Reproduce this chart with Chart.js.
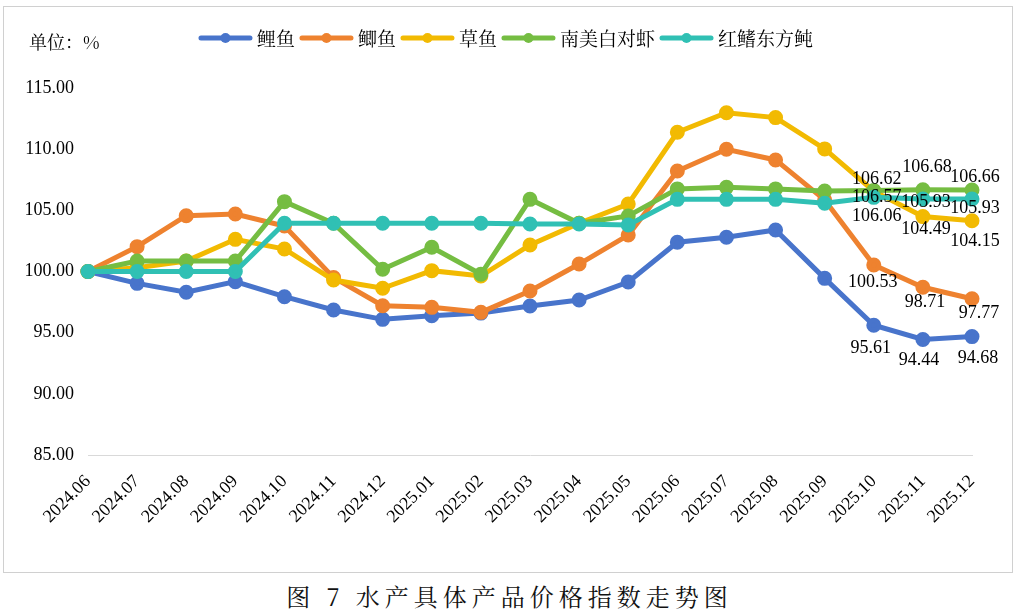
<!DOCTYPE html>
<html>
<head>
<meta charset="utf-8">
<script src="https://cdn.jsdelivr.net/npm/chart.js@4"></script>
<style>
  body { margin: 0; background: #fff; width: 1019px; height: 613px; position: relative; overflow: hidden; }
  #box { position: absolute; left: 3px; top: 6px; width: 1008px; height: 565px; border: 1px solid #d0d0d0; }
  #caption { position: absolute; left: 0; top: 578px; width: 1019px; text-align: center;
    font-family: "Noto Serif CJK SC", "Noto Sans CJK SC", serif; font-size: 24px; letter-spacing: 5px; color: #111; }
</style>
</head>
<body>
<div id="box"><canvas id="c" width="1008" height="565"></canvas></div>
<div id="caption">图 7 水产具体产品价格指数走势图</div>
<script>
// Months on the x axis
const months = ['2024.06', '2024.07', '2024.08', '2024.09', '2024.10', '2024.11', '2024.12',
  '2025.01', '2025.02', '2025.03', '2025.04', '2025.05', '2025.06', '2025.07', '2025.08',
  '2025.09', '2025.10', '2025.11', '2025.12'];

// Index values (last three months are labelled)
const carp      = [100, 99.03, 98.30, 99.17, 97.94, 96.85, 96.09, 96.39, 96.60, 97.18, 97.67, 99.14, 102.39, 102.80, 103.39, 99.44, 95.61, 94.44, 94.68];
const crucian   = [100, 102.03, 104.56, 104.70, 103.72, 99.50, 97.20, 97.07, 96.66, 98.41, 100.61, 102.98, 108.22, 109.99, 109.12, 105.85, 100.53, 98.71, 97.77];
const grassCarp = [100, 100.30, 100.85, 102.63, 101.84, 99.30, 98.63, 100.07, 99.63, 102.17, 103.94, 105.52, 111.38, 112.98, 112.58, 110.02, 106.57, 104.49, 104.15];
const shrimp    = [100, 100.86, 100.86, 100.86, 105.71, 103.94, 100.18, 101.98, 99.77, 105.90, 103.94, 104.54, 106.75, 106.88, 106.75, 106.58, 106.62, 106.68, 106.66];
const puffer    = [100, 100, 100, 100, 103.94, 103.94, 103.94, 103.94, 103.94, 103.88, 103.88, 103.80, 105.90, 105.90, 105.90, 105.58, 106.06, 105.93, 105.93];

const seriesNames = ['鲤鱼', '鲫鱼', '草鱼', '南美白对虾', '红鳍东方鲀'];
const yTicks = [85, 90, 95, 100, 105, 110, 115];

const COLORS = ['#4874CB', '#EE822F', '#F2BA02', '#75BD42', '#30C0B4'];
const NUM_FONT = '"Liberation Serif", "Times New Roman", serif';
const CJK_FONT = '"Noto Serif CJK SC", "Noto Sans CJK SC", serif';

// which points carry a value label, and where the label sits relative to the point
const LABELLED = [16, 17, 18];
const LABEL_OFFSETS = [
  [[-3, 23], [-4, 21], [6, 22]],
  [[-1, 17], [2, 15], [7, 14]],
  [[3, 6], [3, 13], [3, 21]],
  [[3, -11], [4, -23], [3, -13]],
  [[3, 19], [3, 3], [3, 9]],
];

const allSeries = [carp, crucian, grassCarp, shrimp, puffer];

const datasets = allSeries.map((values, i) => ({
  label: seriesNames[i],
  data: values,
  borderColor: COLORS[i],
  backgroundColor: COLORS[i],
  borderWidth: 5,
  pointRadius: 5,
  pointHoverRadius: 5,
  tension: 0,
  fill: false,
  order: allSeries.length - i,   // later series drawn on top, like the original
}));

// Legend, unit note and value labels are drawn by hand
const decorations = {
  id: 'decorations',
  afterDatasetsDraw(chart) {
    const ctx = chart.ctx;
    ctx.save();
    ctx.font = '18px ' + NUM_FONT;
    ctx.fillStyle = '#000';
    ctx.textAlign = 'center';
    ctx.textBaseline = 'middle';
    chart.data.datasets.forEach((ds, di) => {
      const meta = chart.getDatasetMeta(di);
      LABELLED.forEach((idx, k) => {
        const pt = meta.data[idx];
        const [dx, dy] = LABEL_OFFSETS[di][k];
        ctx.fillText(ds.data[idx].toFixed(2), pt.x + dx, pt.y + dy);
      });
    });
    ctx.restore();
  },
  afterDraw(chart) {
    const ctx = chart.ctx;
    ctx.save();
    // unit
    ctx.font = '18px ' + CJK_FONT;
    ctx.fillStyle = '#000';
    ctx.textBaseline = 'middle';
    ctx.textAlign = 'left';
    ctx.fillText('单位：%', 25, 35);

    // legend
    ctx.font = '19px ' + CJK_FONT;
    const lineW = 53, gap = 5, after = 5, y = 31;
    const widths = seriesNames.map(n => ctx.measureText(n).width);
    const total = widths.reduce((a, w) => a + lineW + gap + w + after, 0) - after;
    let x = 502 - total / 2;
    seriesNames.forEach((name, i) => {
      ctx.strokeStyle = COLORS[i];
      ctx.lineWidth = 5;
      ctx.lineCap = 'round';
      ctx.beginPath();
      ctx.moveTo(x + 2, y);
      ctx.lineTo(x + lineW - 2, y);
      ctx.stroke();
      ctx.fillStyle = COLORS[i];
      ctx.beginPath();
      ctx.arc(x + lineW / 2, y, 5, 0, Math.PI * 2);
      ctx.fill();
      ctx.fillStyle = '#000';
      ctx.fillText(name, x + lineW + gap, y + 1);
      x += lineW + gap + widths[i] + after;
    });
    ctx.restore();
  }
};

new Chart(document.getElementById('c'), {
  type: 'line',
  data: { labels: months, datasets },
  plugins: [decorations],
  options: {
    responsive: false,
    animation: false,
    layout: { padding: { left: 0, right: 40, top: 81, bottom: 0 } },
    plugins: {
      legend: { display: false },
      tooltip: { enabled: false },
    },
    scales: {
      x: {
        offset: false,
        grid: { display: false, drawTicks: false },
        border: { display: true, color: '#d9d9d9', width: 1 },
        ticks: {
          autoSkip: false,
          maxRotation: 45,
          minRotation: 45,
          padding: 16,
          color: '#000',
          font: { family: NUM_FONT, size: 18 },
        },
        afterFit(scale) { scale.height = 117; },
      },
      y: {
        min: 85,
        max: 115,
        grid: { display: false, drawTicks: false },
        border: { display: false },
        afterBuildTicks(scale) { scale.ticks = yTicks.map(v => ({ value: v })); },
        ticks: {
          padding: 14,
          color: '#000',
          font: { family: NUM_FONT, size: 18 },
          callback: v => Number(v).toFixed(2),
        },
        afterFit(scale) { scale.width = 84; },
      },
    },
  },
});
</script>
</body>
</html>
